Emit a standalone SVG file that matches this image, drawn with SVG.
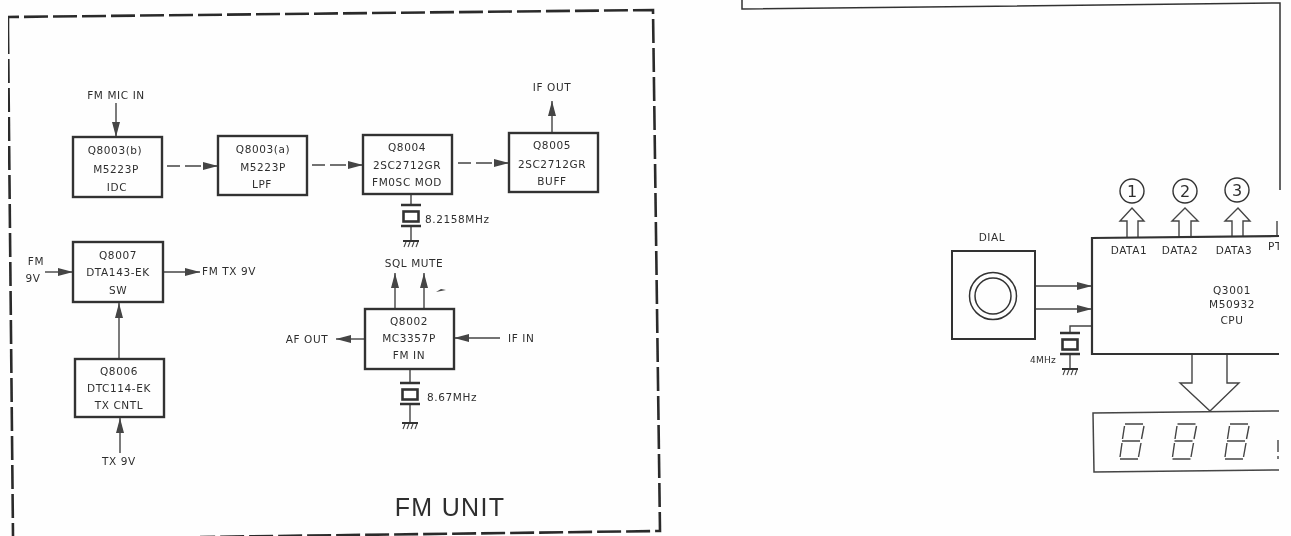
<svg xmlns="http://www.w3.org/2000/svg" xmlns:xlink="http://www.w3.org/1999/xlink" width="1291" height="536" viewBox="0 0 1291 536">
<style>
text{font-family:"DejaVu Sans","Liberation Sans",sans-serif;font-size:10.5px;letter-spacing:0.6px;fill:#2e2e2e;text-anchor:middle}
.s{text-anchor:start}
.box{fill:none;stroke:#333;stroke-width:2.4}
.thin{fill:none;stroke:#444;stroke-width:1.4}
.wire{fill:none;stroke:#444;stroke-width:1.4;marker-end:url(#ah)}
.dash{stroke-dasharray:13 5 16 5}
.frame{fill:none;stroke:#2c2c2c;stroke-width:2.6;stroke-dasharray:24 5}
.plate{fill:#fff;stroke:#333;stroke-width:2.6}
.seg{fill:none;stroke:#444;stroke-width:1.4}
</style>
<defs>
<marker id="ah" markerUnits="userSpaceOnUse" markerWidth="16" markerHeight="10" refX="15" refY="5" orient="auto"><path d="M0,1L15,5L0,9z" fill="#444"/></marker>
<filter id="soft" x="0" y="0" width="100%" height="100%"><feGaussianBlur stdDeviation="0.3"/></filter>
<clipPath id="cut"><rect x="0" y="0" width="1279" height="536"/></clipPath>
<g id="xtal">
<path d="M-10,0H10M-10,21H10" stroke="#333" stroke-width="2.6" fill="none"/>
<rect x="-7.5" y="6.5" width="15" height="10" class="plate"/>
</g>
<g id="gnd">
<path d="M-8,0H8" stroke="#333" stroke-width="2"/>
<path d="M-5,1L-7,6M-1,1L-3,6M3,1L1,6M7,1L5,6" stroke="#444" stroke-width="1.1"/>
</g>
<g id="digit">
<path class="seg" d="M1125,424H1143M1122,441H1140M1120,459H1138M1124.5,426L1122.5,439M1122,443L1120,457M1144,426L1141.5,439M1141,443L1138.500,457"/>
</g>
</defs>
<rect width="1291" height="536" fill="#fefefe"/>
<g filter="url(#soft)">
<g id="fm-unit-frame">
<path class="frame" d="M8,30V17L653,10L660,531L200,537"/>
<path class="frame" d="M8,30L13,536"/>
<text x="450" y="516" style="font-family:'Liberation Sans',sans-serif;font-size:25px;letter-spacing:1.3px">FM UNIT</text>
</g>
<g id="connectors">
<path class="wire" d="M116,103V137"/>
<path class="wire dash" d="M167,166H218"/>
<path class="wire dash" d="M312,165H363"/>
<path class="wire dash" d="M458,163H509"/>
<path class="wire" d="M552,133V101"/>
<path class="wire" d="M45,272H73"/>
<path class="wire" d="M163,272H200"/>
<path class="wire" d="M119,359V303"/>
<path class="wire" d="M120,453V418"/>
<path class="wire" d="M395,309V273"/>
<path class="wire" d="M424,309V273"/>
<path class="wire" d="M365,339H336"/>
<path class="wire" d="M500,338H454"/>
<path class="thin" d="M411,194V205M411,226V240"/>
<path class="thin" d="M410,369V383M410,404V423"/>
<path class="wire" d="M1035,286H1092"/>
<path class="wire" d="M1035,309H1092"/>
<path class="thin" d="M1092,326H1070V333M1070,354V368"/>
<path class="thin" d="M1127,237V221H1120L1132,208L1144,221H1138V237"/>
<path class="thin" d="M1179,237V221H1172L1185,208L1198,221H1191V237"/>
<path class="thin" d="M1232,237V221H1225L1238,208L1250,221H1243V237"/>
<path class="thin" d="M1192,354V383H1180L1210,411L1239,383H1227V354"/>
<path class="thin" d="M1277,221V236"/>
</g>
<g id="q8003b"><rect class="box" x="73" y="137" width="89" height="60"/><text x="115" y="154">Q8003(b)</text><text x="116" y="173">M5223P</text><text x="117" y="191">IDC</text></g>
<g id="q8003a"><rect class="box" x="218" y="136" width="89" height="59"/><text x="263" y="153">Q8003(a)</text><text x="263" y="171">M5223P</text><text x="262" y="188">LPF</text></g>
<g id="q8004"><rect class="box" x="363" y="135" width="89" height="59"/><text x="407" y="151">Q8004</text><text x="407" y="169">2SC2712GR</text><text x="407" y="186">FM0SC MOD</text></g>
<g id="q8005"><rect class="box" x="509" y="133" width="89" height="59"/><text x="552" y="149">Q8005</text><text x="552" y="168">2SC2712GR</text><text x="552" y="185">BUFF</text></g>
<g id="q8007"><rect class="box" x="73" y="242" width="90" height="60"/><text x="118" y="259">Q8007</text><text x="118" y="276">DTA143-EK</text><text x="118" y="294">SW</text></g>
<g id="q8006"><rect class="box" x="75" y="359" width="89" height="58"/><text x="119" y="375">Q8006</text><text x="119" y="392">DTC114-EK</text><text x="119" y="409">TX CNTL</text></g>
<g id="q8002"><rect class="box" x="365" y="309" width="89" height="60"/><text x="409" y="325">Q8002</text><text x="409" y="342">MC3357P</text><text x="409" y="359">FM IN</text></g>
<g id="labels-left">
<text x="116" y="99">FM MIC IN</text>
<text x="552" y="91">IF OUT</text>
<text x="36" y="265">FM</text>
<text x="33" y="282">9V</text>
<text class="s" x="202" y="275">FM TX 9V</text>
<text x="119" y="465">TX 9V</text>
<text x="414" y="267">SQL MUTE</text>
<text x="307" y="343">AF OUT</text>
<text class="s" x="508" y="342">IF IN</text>
<path d="M436,292L446,290L441,289z" fill="#444"/>
</g>
<g id="xtal-8m"><use xlink:href="#xtal" href="#xtal" x="411" y="205"/><use href="#gnd" xlink:href="#gnd" x="411" y="241"/><text class="s" x="425" y="223">8.2158MHz</text></g>
<g id="xtal-867"><use href="#xtal" xlink:href="#xtal" x="410" y="383"/><use href="#gnd" xlink:href="#gnd" x="410" y="423"/><text class="s" x="427" y="401">8.67MHz</text></g>
<g id="upper-frame"><path fill="none" stroke="#333" stroke-width="1.5" d="M742,0V9L1280,3V190"/></g>
<g id="dial">
<rect x="952" y="251" width="83" height="88" fill="none" stroke="#333" stroke-width="2"/>
<circle cx="993" cy="296" r="23.500" fill="none" stroke="#333" stroke-width="1.5"/>
<circle cx="993" cy="296" r="18" fill="none" stroke="#333" stroke-width="1.5"/>
<text x="992" y="241">DIAL</text>
</g>
<g id="xtal-4m"><use href="#xtal" xlink:href="#xtal" x="1070" y="333"/><use href="#gnd" xlink:href="#gnd" x="1070" y="369"/><text x="1043" y="363" style="font-size:9px;letter-spacing:0.2px">4MHz</text></g>
<g id="cpu" clip-path="url(#cut)">
<path fill="none" stroke="#333" stroke-width="2.2" d="M1279,236L1092,238V354H1279"/>
<text x="1129" y="254">DATA1</text><text x="1180" y="254">DATA2</text><text x="1234" y="254">DATA3</text>
<text class="s" x="1268" y="250">PT</text>
<text x="1232" y="294">Q3001</text><text x="1232" y="308">M50932</text><text x="1232" y="324">CPU</text>
</g>
<g id="out1"><circle cx="1132" cy="191" r="12" fill="none" stroke="#333" stroke-width="1.4"/><text x="1132" y="197" style="font-size:16px;letter-spacing:0">1</text></g>
<g id="out2"><circle cx="1185" cy="191" r="12" fill="none" stroke="#333" stroke-width="1.4"/><text x="1185" y="197" style="font-size:16px;letter-spacing:0">2</text></g>
<g id="out3"><circle cx="1237" cy="190" r="12" fill="none" stroke="#333" stroke-width="1.4"/><text x="1237" y="196" style="font-size:16px;letter-spacing:0">3</text></g>
<g id="display" clip-path="url(#cut)">
<path fill="none" stroke="#444" stroke-width="1.5" d="M1279,411L1093,413L1094,472L1279,470"/>
<use href="#digit" xlink:href="#digit"/>
<use href="#digit" xlink:href="#digit" x="52.500"/>
<use href="#digit" xlink:href="#digit" x="105"/>
<path class="seg" d="M1278,440V452M1278,456V459"/>
</g>
</g>
</svg>
